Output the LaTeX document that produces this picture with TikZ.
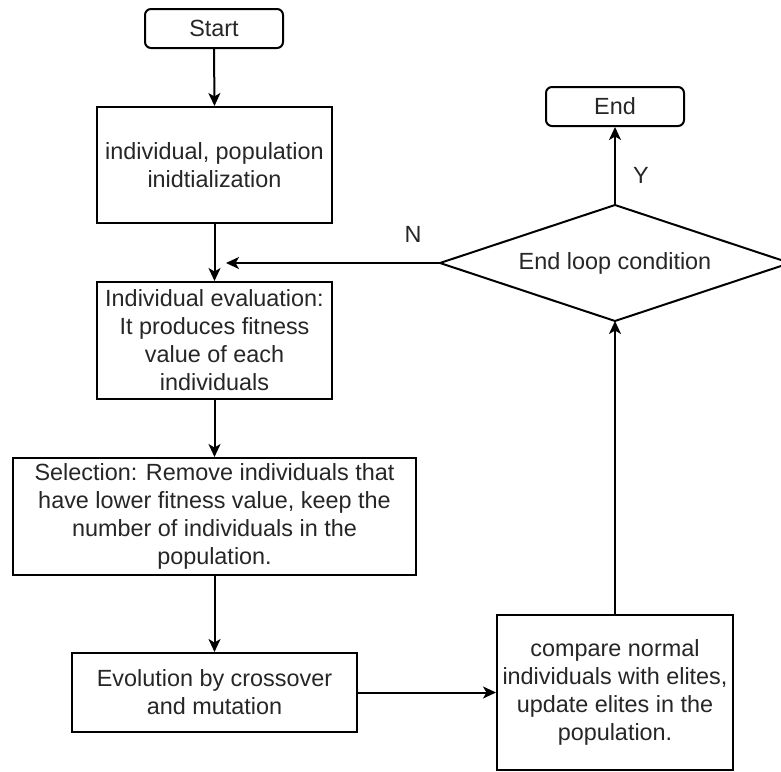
\documentclass[tikz,border=0pt]{standalone}
\usepackage{fontspec}
\setmainfont{Liberation Sans}
\usetikzlibrary{arrows.meta}
\begin{document}
\begin{tikzpicture}[x=1pt,y=-1pt,
  every node/.style={font=\fontsize{23.4}{28}\selectfont, text=black!85, align=center},
  procbox/.style={draw, line width=2pt, rectangle, inner sep=0pt},
  termbox/.style={draw, line width=2pt, rectangle, rounded corners=6pt, inner sep=0pt},
  conn/.style={draw, line width=2pt, -{Stealth[length=13pt,width=12pt,inset=3.5pt]}},
  lbl/.style={inner sep=0pt}]
\useasboundingbox (0,0) rectangle (781,771);
\clip (0,0) rectangle (781,771);
\fill[white] (0,0) rectangle (781,771);
\node[termbox, minimum width=138pt, minimum height=39pt] (start) at (214,28.5) {Start};
\node[procbox, minimum width=235pt, minimum height=116pt] (init) at (214.5,165) {individual, population\\inidtialization};
\node[procbox, minimum width=235pt, minimum height=117pt] (eval) at (214.5,340.5) {Individual evaluation:\\It produces fitness\\value of each\\individuals};
\node[procbox, minimum width=403pt, minimum height=117pt] (sel) at (214.5,516.5) {Selection: Remove individuals that\\have lower fitness value, keep the\\number of individuals in the\\population.};
\node[procbox, minimum width=285pt, minimum height=79pt] (evo) at (214.5,692.5) {Evolution by crossover\\and mutation};
\node[procbox, minimum width=236pt, minimum height=155pt] (cmp) at (615,692.5) {compare normal\\individuals with elites,\\update elites in the\\population.};
\coordinate (dc) at (615,263);
\coordinate (dw) at (440,263);
\coordinate (de) at (790,263);
\coordinate (dn) at (615,205);
\coordinate (ds) at (615,321);
\draw[line width=2pt, line join=miter] (dw) -- (dn) -- (de) -- (ds) -- cycle;
\node[lbl] (cond) at (dc) {End loop condition};
\node[termbox, minimum width=138pt, minimum height=39pt] (end) at (615,106.5) {End};
\coordinate (nend) at (226,263);
\path[conn] (start.south) -- (init.north);
\path[conn] (init.south) -- (eval.north);
\path[conn] (eval.south) -- (sel.north);
\path[conn] (sel.south) -- (evo.north);
\path[conn] (evo.east) -- (evo.east -| cmp.west);
\path[conn] (cmp.north) -- (ds);
\path[conn] (dn) -- (end.south);
\path[conn] (dw) -- (nend);
\node[lbl] (nlbl) at (413,234) {N};
\node[lbl] (ylbl) at (641,175) {Y};
\end{tikzpicture}
\end{document}
